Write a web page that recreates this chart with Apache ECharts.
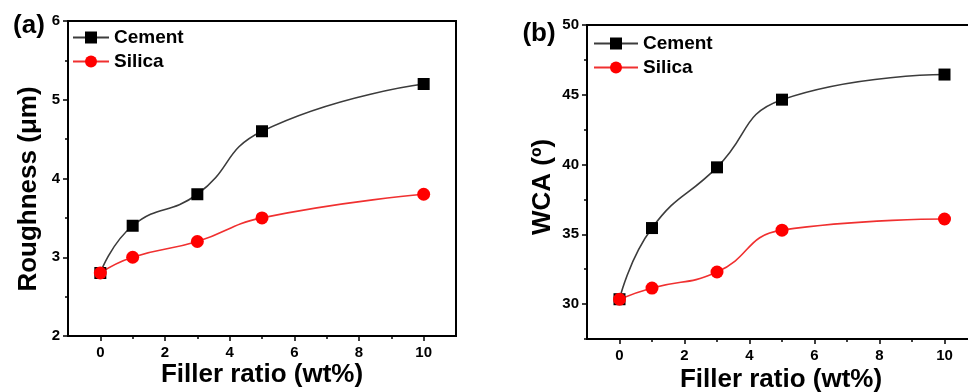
<!DOCTYPE html>
<html><head><meta charset="utf-8">
<script src="https://cdn.jsdelivr.net/npm/echarts@6/dist/echarts.min.js"></script>
<style>html,body{margin:0;padding:0;background:#fff;overflow:hidden;width:968px;height:392px}#c{width:1000px;height:392px}</style>
</head><body><div id="c"></div>
<script>
const fillerRatio = [0, 1, 3, 5, 10];
const roughCement = [2.8, 3.4, 3.8, 4.6, 5.2];
const roughSilica = [2.8, 3.0, 3.2, 3.5, 3.8];
const wcaCement = [30.35, 35.45, 39.8, 44.65, 46.45];
const wcaSilica = [30.35, 31.15, 32.3, 35.3, 36.1];
const xTickLabels = [0, 2, 4, 6, 8, 10];
const xMinorTicks = [1, 3, 5, 7, 9];
const roughTicks = [2, 3, 4, 5, 6];
const wcaTicks = [30, 35, 40, 45, 50];
const wcaMinorTicks = [27.5, 32.5, 37.5, 42.5, 47.5];

const FONT = 'Liberation Sans, Arial, sans-serif';
const pair = (xs, ys) => xs.map((x, i) => [x, ys[i]]);
const chart = echarts.init(document.getElementById('c'));

function xMain(gi) {
  return {
    type: 'value', gridIndex: gi, min: -1, max: 11, position: 'bottom',
    axisLine: {show: true, onZero: false, lineStyle: {color: '#000', width: 2}},
    axisTick: {show: true, inside: false, length: 5, customValues: xTickLabels, lineStyle: {color: '#000', width: 1.5}},
    axisLabel: {customValues: xTickLabels, margin: 9, fontFamily: FONT, fontWeight: 'bold', fontSize: 15, color: '#000'},
    splitLine: {show: false}
  };
}
function xMinor(gi) {
  return {
    type: 'value', gridIndex: gi, min: -1, max: 11, position: 'bottom', offset: 0,
    axisLine: {show: false, onZero: false},
    axisTick: {show: true, length: 3, customValues: xMinorTicks, lineStyle: {color: '#000', width: 1.5}},
    axisLabel: {show: false}, splitLine: {show: false}
  };
}
const lbl = {fontFamily: FONT, fontWeight: 'bold', fontSize: 15, color: '#000', margin: 8};
const legText = {fontFamily: FONT, fontWeight: 'bold', fontSize: 19, color: '#000'};
const title = (text, x, y, rot) => ({type: 'text', x: x, y: y, rotation: rot || 0,
  style: {text: text, font: 'bold 26px ' + FONT, fill: '#000', align: 'center', verticalAlign: 'middle'}});

chart.setOption({
  animation: false,
  grid: [
    {left: 68, top: 21, width: 388, height: 315, show: true, borderColor: '#000', borderWidth: 2, containLabel: false},
    {left: 587, top: 25, width: 390, height: 314, show: true, borderColor: '#000', borderWidth: 2, containLabel: false}
  ],
  legend: [
    {orient: 'vertical', left: 72, top: 28, padding: 0, itemWidth: 36, itemHeight: 15, itemGap: 5,
     data: ['Cement', 'Silica'], textStyle: legText},
    {orient: 'vertical', left: 593, top: 34, padding: 0, itemWidth: 44, itemHeight: 15, itemGap: 5,
     data: ['Cement ', 'Silica '], formatter: n => n.trim(), textStyle: legText}
  ],
  xAxis: [xMain(0), xMinor(0), xMain(1), xMinor(1)],
  yAxis: [
    {type: 'value', gridIndex: 0, min: 2, max: 6, interval: 1,
     axisLine: {show: true, onZero: false, lineStyle: {color: '#000', width: 2}},
     axisTick: {show: true, length: 5, lineStyle: {color: '#000', width: 1.5}},
     minorTick: {show: true, splitNumber: 2, length: 3, lineStyle: {color: '#000', width: 1.5}},
     axisLabel: lbl, splitLine: {show: false}, minorSplitLine: {show: false}},
    {type: 'value', gridIndex: 1, min: 27.5, max: 50,
     axisLine: {show: true, onZero: false, lineStyle: {color: '#000', width: 2}},
     axisTick: {show: true, length: 5, customValues: wcaTicks, lineStyle: {color: '#000', width: 1.5}},
     axisLabel: Object.assign({customValues: wcaTicks}, lbl), splitLine: {show: false}},
    {type: 'value', gridIndex: 1, min: 27.5, max: 50, position: 'left', offset: 0,
     axisLine: {show: false, onZero: false},
     axisTick: {show: true, length: 3, customValues: wcaMinorTicks, lineStyle: {color: '#000', width: 1.5}},
     axisLabel: {show: false}, splitLine: {show: false}}
  ],
  series: [
    {name: 'Cement', type: 'line', xAxisIndex: 0, yAxisIndex: 0, smooth: 0.5,
     data: pair(fillerRatio, roughCement), symbol: 'rect', symbolSize: 12,
     lineStyle: {color: '#3c3c3c', width: 1.6}, itemStyle: {color: '#000'}},
    {name: 'Silica', type: 'line', xAxisIndex: 0, yAxisIndex: 0, smooth: 0.5,
     data: pair(fillerRatio, roughSilica), symbol: 'circle', symbolSize: 13,
     lineStyle: {color: '#f03030', width: 1.6}, itemStyle: {color: '#ff0000'}},
    {name: 'Cement ', type: 'line', xAxisIndex: 2, yAxisIndex: 1, smooth: 0.5,
     data: pair(fillerRatio, wcaCement), symbol: 'rect', symbolSize: 12,
     lineStyle: {color: '#3c3c3c', width: 1.6}, itemStyle: {color: '#000'}},
    {name: 'Silica ', type: 'line', xAxisIndex: 2, yAxisIndex: 1, smooth: 0.5,
     data: pair(fillerRatio, wcaSilica), symbol: 'circle', symbolSize: 13,
     lineStyle: {color: '#f03030', width: 1.6}, itemStyle: {color: '#ff0000'}}
  ],
  graphic: [
    title('Roughness (μm)', 29, 189, Math.PI / 2),
    title('WCA (º)', 543, 187, Math.PI / 2),
    title('Filler ratio (wt%)', 262, 375),
    title('Filler ratio (wt%)', 781, 380),
    title('(a)', 29, 26),
    title('(b)', 539, 34)
  ]
});
</script></body></html>
